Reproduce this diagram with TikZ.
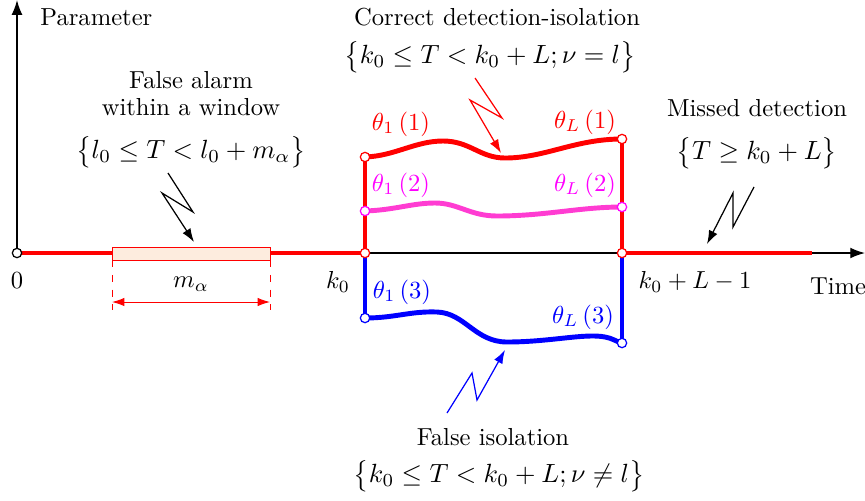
\documentclass[tikz,border=0pt]{standalone}
\usetikzlibrary{arrows.meta}
\definecolor{mag}{RGB}{255,0,255}
\definecolor{magline}{RGB}{255,60,210}
\definecolor{winfill}{RGB}{253,236,222}
\newcommand{\bigform}[1]{\scalebox{1.07}{#1}}
\begin{document}
\begin{tikzpicture}[x=0.4065pt,y=-0.4065pt,
  axisline/.style={line width=0.6pt,-{Latex[length=6pt,width=4.4pt]}},
  thk/.style={line width=2pt},
  dot/.style={circle,draw,fill=white,inner sep=0pt,minimum size=3.8pt,line width=0.5pt},
  bolt/.style={line width=0.5pt,-{Latex[length=5.5pt,width=3.8pt]}},
  lbl/.style={inner sep=0pt}]
\useasboundingbox (0,0) rectangle (865,500);
% coordinates
\coordinate (O) at (17,253);
\coordinate (Ytip) at (17,0);
\coordinate (Xtip) at (865,253);
\coordinate (W1) at (112,253);
\coordinate (W2) at (270,253);
\coordinate (K) at (365,253);
\coordinate (K1) at (365,157);
\coordinate (K2) at (365,211);
\coordinate (K3) at (365,318);
\coordinate (E) at (622,253);
\coordinate (E1) at (622,139);
\coordinate (E2) at (622,207);
\coordinate (E3) at (622,343);
\coordinate (R) at (812,253);
% axes
\draw[axisline] (O) -- (Ytip);
\draw[axisline] (O) -- (Xtip);
% red baseline
\draw[thk,red] (O) -- (W1);
\draw[thk,red] (W2) -- (K);
\draw[thk,red] (E) -- (R);
\draw[red,line width=0.4pt,fill=winfill] (112,247) rectangle (270,260);
% window dimension
\draw[red,dashed,line width=0.4pt] (112,260) -- (112,310);
\draw[red,dashed,line width=0.4pt] (270,260) -- (270,310);
\draw[red,line width=0.4pt,{Latex[length=5pt,width=3.4pt]}-{Latex[length=5pt,width=3.4pt]}] (112,302) -- (270,302);
\node[lbl] (malpha) at (191,284) {$m_{\alpha}$};
% verticals
\draw[thk,red] (K) -- (K1);
\draw[thk,red] (E) -- (E1);
\draw[thk,blue] (K) -- (K3);
\draw[thk,blue] (E) -- (E3);
% curves
\draw[thk,red] (K1) .. controls (395,156) and (415,141) .. (443,141)
  .. controls (470,141) and (480,158) .. (505,158)
  .. controls (545,158) and (575,139) .. (E1);
\draw[thk,magline] (K2) .. controls (395,210) and (412,203) .. (435,203)
  .. controls (458,203) and (470,216) .. (497,216)
  .. controls (545,216) and (580,207) .. (E2);
\draw[thk,blue] (K3) .. controls (395,318) and (410,311) .. (437,312)
  .. controls (465,313) and (475,342) .. (507,342)
  .. controls (550,342) and (585,333) .. (605,337)
  .. controls (612,338) and (617,342) .. (E3);
% dots
\node[dot,draw=black] at (O) {};
\node[dot,draw=red] at (K) {};
\node[dot,draw=red] at (K1) {};
\node[dot,draw=mag] at (K2) {};
\node[dot,draw=blue] at (K3) {};
\node[dot,draw=red] at (E) {};
\node[dot,draw=red] at (E1) {};
\node[dot,draw=mag] at (E2) {};
\node[dot,draw=blue] at (E3) {};
% theta labels
\node[lbl,red] (t11) at (401,124) {$\theta_1\left(1\right)$};
\node[lbl,red] (tl1) at (585,122) {$\theta_L\left(1\right)$};
\node[lbl,mag] (t12) at (401,185) {$\theta_1\left(2\right)$};
\node[lbl,mag] (tl2) at (585,185) {$\theta_L\left(2\right)$};
\node[lbl,blue] (t13) at (402,292) {$\theta_1\left(3\right)$};
\node[lbl,blue] (tl3) at (583,317) {$\theta_L\left(3\right)$};
% axis labels
\node[lbl,anchor=west] (par) at (40,17) {Parameter};
\node[lbl] (zero) at (17,281) {$0$};
\node[lbl] (k0) at (338,282) {$k_0$};
\node[lbl] (kL) at (695,282) {$k_0+L-1$};
\node[lbl] (time) at (838,286) {Time};
% annotations
\node[lbl] (fa1) at (191,80) {False alarm};
\node[lbl] (fa2) at (191,107) {within a window};
\node[lbl] (fa3) at (191,152) {\bigform{$\big\{l_0\le T<l_0+m_{\alpha}\big\}$}};
\node[lbl] (cd1) at (497,17) {Correct detection-isolation};
\node[lbl] (cd2) at (490,57) {\bigform{$\big\{k_0\le T<k_0+L;\nu=l\big\}$}};
\node[lbl] (md1) at (757,108) {Missed detection};
\node[lbl] (md2) at (757,153) {\bigform{$\big\{T\ge k_0+L\big\}$}};
\node[lbl] (fi1) at (493,437) {False isolation};
\node[lbl] (fi2) at (499,476) {\bigform{$\big\{k_0\le T<k_0+L;\nu\ne l\big\}$}};
% lightning arrows
\draw[bolt,black] (168,173) -- (193,212) -- (162,193) -- (194,242);
\draw[bolt,red] (475,78) -- (502,118) -- (470,100) -- (501,153);
\draw[bolt,black] (754,187) -- (733,227) -- (733,193) -- (707,244);
\draw[bolt,blue] (447,413) -- (472,373) -- (477,400) -- (505,350);
\end{tikzpicture}
\end{document}
